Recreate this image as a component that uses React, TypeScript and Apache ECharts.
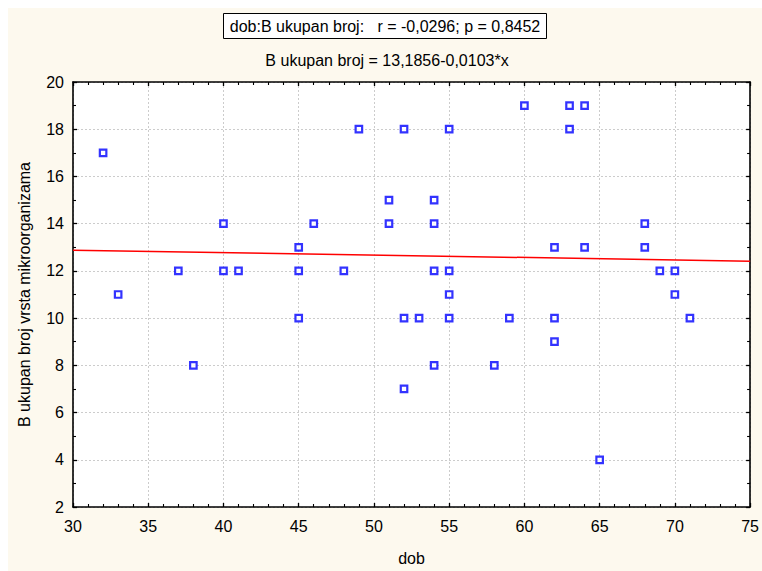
import React, { useEffect, useRef } from "react";
import * as echarts from "echarts";

const dob = [32, 33, 37, 38, 40, 40, 41, 45, 45, 45, 46, 48, 49, 51, 51, 52, 52, 52, 53, 54, 54, 54, 54, 55, 55, 55, 55, 58, 59, 60, 62, 62, 62, 63, 63, 64, 64, 65, 68, 68, 69, 70, 70, 71];
const ukupanBroj = [17, 11, 12, 8, 14, 12, 12, 13, 12, 10, 14, 12, 18, 15, 14, 18, 10, 7, 10, 15, 14, 12, 8, 18, 12, 11, 10, 8, 10, 19, 13, 10, 9, 19, 18, 19, 13, 4, 14, 13, 12, 12, 11, 10];
const fitX = [30, 75];
const fitY = [12.8766, 12.4131];
const xTicks = { min: 30, max: 75, interval: 5 };
const yTicks = { min: 2, max: 20, interval: 2 };
const titleText = "dob:B ukupan broj:   r = -0,0296; p = 0,8452";
const equationText = "B ukupan broj = 13,1856-0,0103*x";
const xName = "dob";
const yName = "B ukupan broj vrsta mikroorganizama";

export default function App() {
  const ref = useRef<HTMLDivElement>(null);
  useEffect(() => {
    if (!ref.current) return;
    const chart = echarts.init(ref.current, undefined, { renderer: "svg" });
    const font = "Liberation Sans, Arial, sans-serif";
    const fs = 16;
    const gridLine = { show: true, lineStyle: { color: "#cccccc", type: [2, 2] as any, width: 1 } };
    const axisLine = { show: true, onZero: false, lineStyle: { color: "#000", width: 1.6 } };
    const tick = { show: true, inside: true, length: 4, lineStyle: { color: "#000", width: 1.3 } };
    const minor = { show: true, splitNumber: 5, length: 3, lineStyle: { color: "#000", width: 1.1 } };
    const points = dob.map((x, i) => [x, ukupanBroj[i]]);
    const fit = fitX.map((x, i) => [x, fitY[i]]);
    chart.setOption({
      animation: false,
      backgroundColor: "#FDF9EE",
      title: {
        text: titleText,
        left: "center",
        top: 5,
        padding: [4, 7],
        borderColor: "#000",
        borderWidth: 1,
        backgroundColor: "#fff",
        textStyle: { fontFamily: font, fontSize: fs, fontWeight: "normal", color: "#000", lineHeight: 18 },
      },
      graphic: [
        {
          type: "text",
          x: 379,
          y: 52,
          style: { text: equationText, fontFamily: font, fontSize: fs, fill: "#000", textAlign: "center", textVerticalAlign: "middle" },
        },
      ],
      grid: { left: 65, right: 9, top: 74, bottom: 58, show: true, backgroundColor: "#fff", borderWidth: 0 },
      xAxis: [
        {
          type: "value",
          ...xTicks,
          name: xName,
          nameLocation: "middle",
          nameGap: 43,
          nameTextStyle: { fontFamily: font, fontSize: fs, color: "#000" },
          axisLine,
          axisTick: tick,
          minorTick: minor,
          splitLine: gridLine,
          axisLabel: { fontFamily: font, fontSize: fs, color: "#000", margin: 11 },
        },
        {
          type: "value",
          position: "top",
          ...xTicks,
          axisLine,
          axisTick: tick,
          minorTick: minor,
          splitLine: { show: false },
          axisLabel: { show: false },
        },
      ],
      yAxis: [
        {
          type: "value",
          ...yTicks,
          name: yName,
          nameLocation: "middle",
          nameGap: 41,
          nameTextStyle: { fontFamily: font, fontSize: fs, color: "#000" },
          axisLine,
          axisTick: tick,
          minorTick: { ...minor, splitNumber: 2 },
          splitLine: gridLine,
          axisLabel: { fontFamily: font, fontSize: fs, color: "#000", margin: 9 },
        },
        {
          type: "value",
          position: "right",
          ...yTicks,
          axisLine,
          axisTick: tick,
          minorTick: { ...minor, splitNumber: 2 },
          splitLine: { show: false },
          axisLabel: { show: false },
        },
      ],
      series: [
        {
          type: "line",
          data: fit,
          symbol: "none",
          lineStyle: { color: "#ff0000", width: 1.5 },
          z: 2,
        },
        {
          type: "scatter",
          data: points,
          symbol: "rect",
          symbolSize: 6.5,
          itemStyle: { color: "#fff", borderColor: "#0000ff", borderWidth: 2.2 },
          z: 3,
        },
      ],
    });
    return () => chart.dispose();
  }, []);
  return <div ref={ref} style={{ position: "fixed", left: 8, top: 8, width: 754, height: 563 }} />;
}
